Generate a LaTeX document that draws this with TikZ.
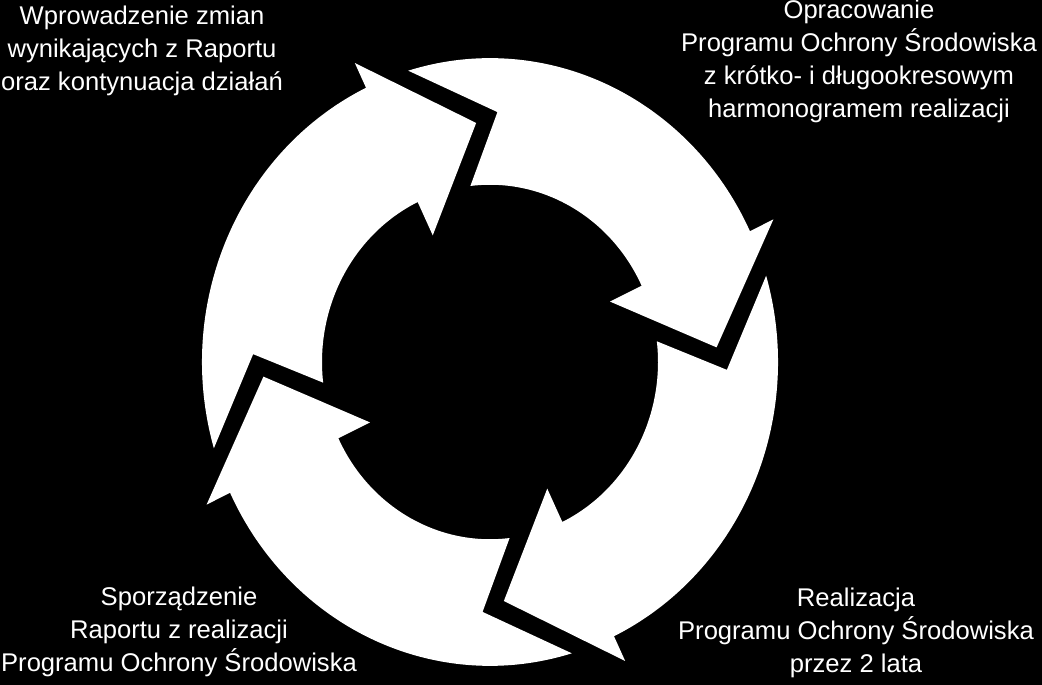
\documentclass[tikz,border=0pt]{standalone}
\usepackage{fontspec}
\setmainfont{Liberation Sans}
\tikzset{opis/.style={white, align=center, font=\fontsize{25.6}{33}\selectfont, inner sep=0pt, anchor=base}}
\begin{document}
\begin{tikzpicture}[x=1pt,y=1pt]
	\fill[black] (0,0) rectangle (1042,685);
	\useasboundingbox (0,0) rectangle (1042,685);

	\begin{scope}[shift={(490,323)}, yscale=1.055]
		\foreach \r in {0,90,180,270} {
			\fill[white, rotate=-\r] (106.5:288) arc[start angle=106.5, end angle=25.5, radius=288] -- (25.5:314) -- (3.5:227) -- (25.5:133) -- (25.5:168) arc[start angle=25.5, end angle=96.7, radius=168] -- (88.2:237) -- cycle;
		}
	\end{scope}

	\node[opis] (wprowadzenie) at (142,594) {Wprowadzenie zmian\\wynikających z Raportu\\oraz kontynuacja działań};
	\node[opis] (opracowanie) at (859,567) {Opracowanie\\Programu Ochrony Środowiska\\z krótko- i długookresowym\\harmonogramem realizacji};
	\node[opis] (realizacja) at (856,12) {Realizacja\\Programu Ochrony Środowiska\\przez 2 lata};
	\node[opis] (sporzadzenie) at (179,13) {Sporządzenie\\Raportu z realizacji\\Programu Ochrony Środowiska};
\end{tikzpicture}
\end{document}
